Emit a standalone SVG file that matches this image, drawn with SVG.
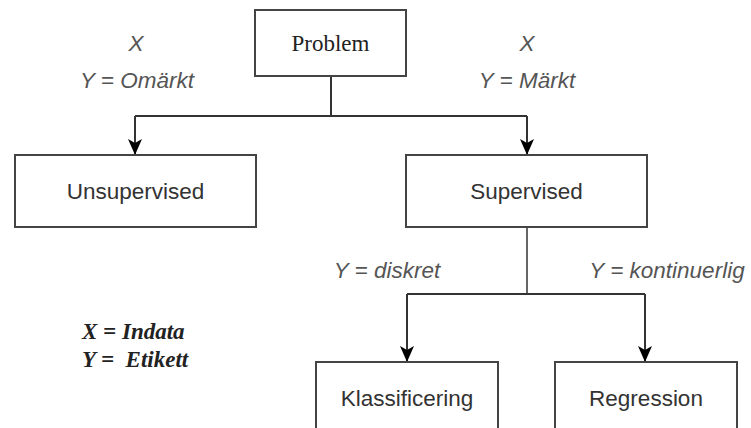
<svg xmlns="http://www.w3.org/2000/svg" width="751" height="428" viewBox="0 0 751 428">
<defs>
<marker id="arr" viewBox="0 0 16 14" refX="16" refY="7" markerWidth="16" markerHeight="14" markerUnits="userSpaceOnUse" orient="auto">
<path d="M0,0 L16,7 L0,14 L4,7 Z" fill="#000"/>
</marker>
</defs>
<style>
.box{fill:#fff;stroke:#444;stroke-width:2}
.t{font-family:"Liberation Sans",Arial,sans-serif;font-size:22.5px;fill:#333;text-anchor:middle}
.s{font-family:"Liberation Serif","Times New Roman",serif;font-size:23px;fill:#222;text-anchor:middle}
.lbl{font-family:"Liberation Sans",Arial,sans-serif;font-size:22.5px;font-style:italic;fill:#555;text-anchor:middle}
.leg{font-family:"Liberation Serif","Times New Roman",serif;font-size:23px;font-style:italic;font-weight:bold;fill:#222}
.c{fill:none;stroke:#333;stroke-width:2}
</style>
<g id="connectors">
<path class="c" d="M331,76 V116"/>
<path class="c" d="M135,116 H527"/>
<path class="c" d="M135,116 V155" marker-end="url(#arr)"/>
<path class="c" d="M527,116 V155" marker-end="url(#arr)"/>
<path class="c" d="M527,227 V294" style="stroke-width:1.5"/>
<path class="c" d="M407,294 H645"/>
<path class="c" d="M407,294 V362" marker-end="url(#arr)"/>
<path class="c" d="M645,294 V362" marker-end="url(#arr)"/>
</g>
<g id="problem">
<rect class="box" x="255" y="10" width="151" height="66"/>
<text class="s" x="330.5" y="51">Problem</text>
</g>
<g id="unsupervised">
<rect class="box" x="15" y="155" width="241" height="72"/>
<text class="t" x="135.5" y="199">Unsupervised</text>
</g>
<g id="supervised">
<rect class="box" x="406" y="155" width="241" height="72"/>
<text class="t" x="526.5" y="199">Supervised</text>
</g>
<g id="klassificering">
<rect class="box" x="316" y="362" width="182" height="80"/>
<text class="t" x="407" y="406">Klassificering</text>
</g>
<g id="regression">
<rect class="box" x="555" y="362" width="182" height="80"/>
<text class="t" x="646" y="406">Regression</text>
</g>
<g id="labels">
<text class="lbl" x="136" y="51">X</text>
<text class="lbl" x="137" y="88">Y = Omärkt</text>
<text class="lbl" x="527" y="51">X</text>
<text class="lbl" x="527" y="88">Y = Märkt</text>
<text class="lbl" x="387" y="278">Y = diskret</text>
<text class="lbl" x="667" y="278">Y = kontinuerlig</text>
<text class="leg" x="82" y="339">X = Indata</text>
<text class="leg" x="82" y="367" xml:space="preserve">Y =  Etikett</text>
</g>
</svg>
